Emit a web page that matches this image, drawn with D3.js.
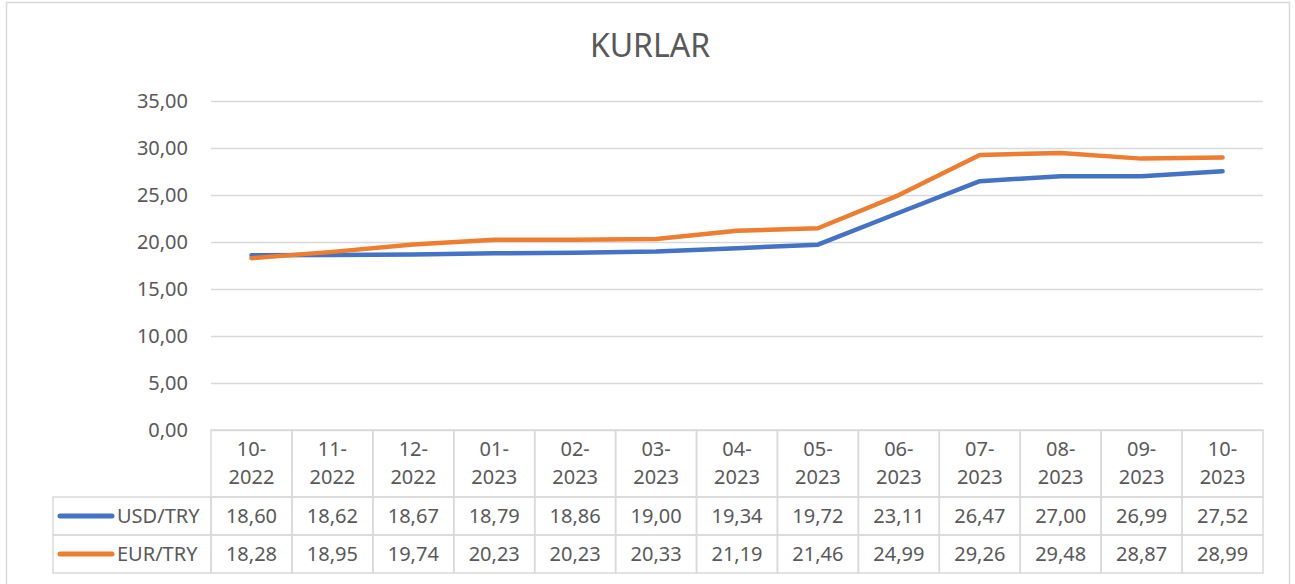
<!DOCTYPE html>
<html>
<head>
<meta charset="utf-8">
<script src="https://cdn.jsdelivr.net/npm/d3@7"></script>
<style>
  body { margin: 0; background: white; }
  svg { display: block; font-family: "Noto Sans", "Open Sans", sans-serif; }
</style>
</head>
<body>
<svg id="chart"></svg>
<script>
// months shown in the data table / x axis
var months = ["10-2022","11-2022","12-2022","01-2023","02-2023","03-2023","04-2023",
              "05-2023","06-2023","07-2023","08-2023","09-2023","10-2023"];
var usdTry = [18.60,18.62,18.67,18.79,18.86,19.00,19.34,19.72,23.11,26.47,27.00,26.99,27.52];
var eurTry = [18.28,18.95,19.74,20.23,20.23,20.33,21.19,21.46,24.99,29.26,29.48,28.87,28.99];
var seriesNames = ["USD/TRY","EUR/TRY"];
var seriesColors = ["#4472C4","#ED7D31"];
var yTicks = [0,5,10,15,20,25,30,35];

var W = 1295, H = 584;
var textColor = "#595959", gridColor = "#D9D9D9";

var svg = d3.select("#chart").attr("width", W).attr("height", H);

// chart area border
svg.append("rect")
  .attr("x", 6.5).attr("y", 2.5)
  .attr("width", 1283).attr("height", 600)
  .attr("fill", "white")
  .attr("stroke", gridColor).attr("stroke-width", 1.5);

svg.append("text")
  .attr("x", 650).attr("y", 57)
  .attr("text-anchor", "middle")
  .attr("font-size", 32)
  .attr("fill", textColor)
  .text("KURLAR");

var x = d3.scaleBand().domain(months).range([211, 1263]).padding(0);
var y = d3.scaleLinear().domain([0, 35]).range([430, 101]);

var fmt = function(v){ return d3.format(".2f")(v).replace(".", ","); };

// y axis with gridlines
var yAxis = svg.append("g")
  .attr("transform", "translate(211,0)")
  .call(d3.axisLeft(y).tickValues(yTicks).tickSize(-1052).tickPadding(23).tickFormat(fmt));
yAxis.select(".domain").remove();
yAxis.selectAll(".tick line").attr("stroke", gridColor).attr("stroke-width", 1.3);
yAxis.selectAll(".tick text")
  .attr("fill", textColor)
  .attr("font-size", 20)
  .attr("font-family", "Noto Sans, Open Sans, sans-serif");

// lines
var data = [usdTry, eurTry];
var line = d3.line()
  .x(function(d, i){ return x(months[i]) + x.bandwidth() / 2; })
  .y(function(d){ return y(d); });

svg.selectAll("path.series")
  .data(data)
  .enter().append("path")
  .attr("class", "series")
  .attr("d", line)
  .attr("fill", "none")
  .attr("stroke", function(d, i){ return seriesColors[i]; })
  .attr("stroke-width", 4.5)
  .attr("stroke-linejoin", "round")
  .attr("stroke-linecap", "round");

// data table
var tHead = 430, tHeadB = 497, rowH = 38;
var tbl = svg.append("g")
  .attr("fill", "none")
  .attr("stroke", gridColor)
  .attr("stroke-width", 1.5);

// header cells
months.forEach(function(m){
  tbl.append("rect")
    .attr("x", x(m)).attr("y", tHead)
    .attr("width", x.bandwidth()).attr("height", tHeadB - tHead);
});
// value rows
seriesNames.forEach(function(s, r){
  var ry = tHeadB + r * rowH;
  tbl.append("rect")
    .attr("x", 53).attr("y", ry)
    .attr("width", 211 - 53).attr("height", rowH);
  months.forEach(function(m){
    tbl.append("rect")
      .attr("x", x(m)).attr("y", ry)
      .attr("width", x.bandwidth()).attr("height", rowH);
  });
});

// header labels
var head = svg.append("g").attr("fill", textColor).attr("font-size", 20).attr("text-anchor", "middle");
months.forEach(function(m){
  var parts = m.split("-");
  var t = head.append("text").attr("x", x(m) + x.bandwidth() / 2);
  t.append("tspan").attr("x", x(m) + x.bandwidth() / 2).attr("y", 456).text(parts[0] + "-");
  t.append("tspan").attr("x", x(m) + x.bandwidth() / 2).attr("y", 484).text(parts[1]);
});

// row labels and values
seriesNames.forEach(function(s, r){
  var cy = tHeadB + r * rowH + rowH / 2;
  svg.append("line")
    .attr("x1", 60).attr("x2", 112)
    .attr("y1", cy).attr("y2", cy)
    .attr("stroke", seriesColors[r])
    .attr("stroke-width", 5)
    .attr("stroke-linecap", "round");
  svg.append("text")
    .attr("x", 117).attr("y", cy + 7)
    .attr("fill", textColor).attr("font-size", 20)
    .text(s);
  svg.append("g").selectAll("text")
    .data(data[r])
    .enter().append("text")
    .attr("x", function(d, i){ return x(months[i]) + x.bandwidth() / 2; })
    .attr("y", cy + 7)
    .attr("text-anchor", "middle")
    .attr("fill", textColor).attr("font-size", 20)
    .text(fmt);
});
</script>
</body>
</html>
